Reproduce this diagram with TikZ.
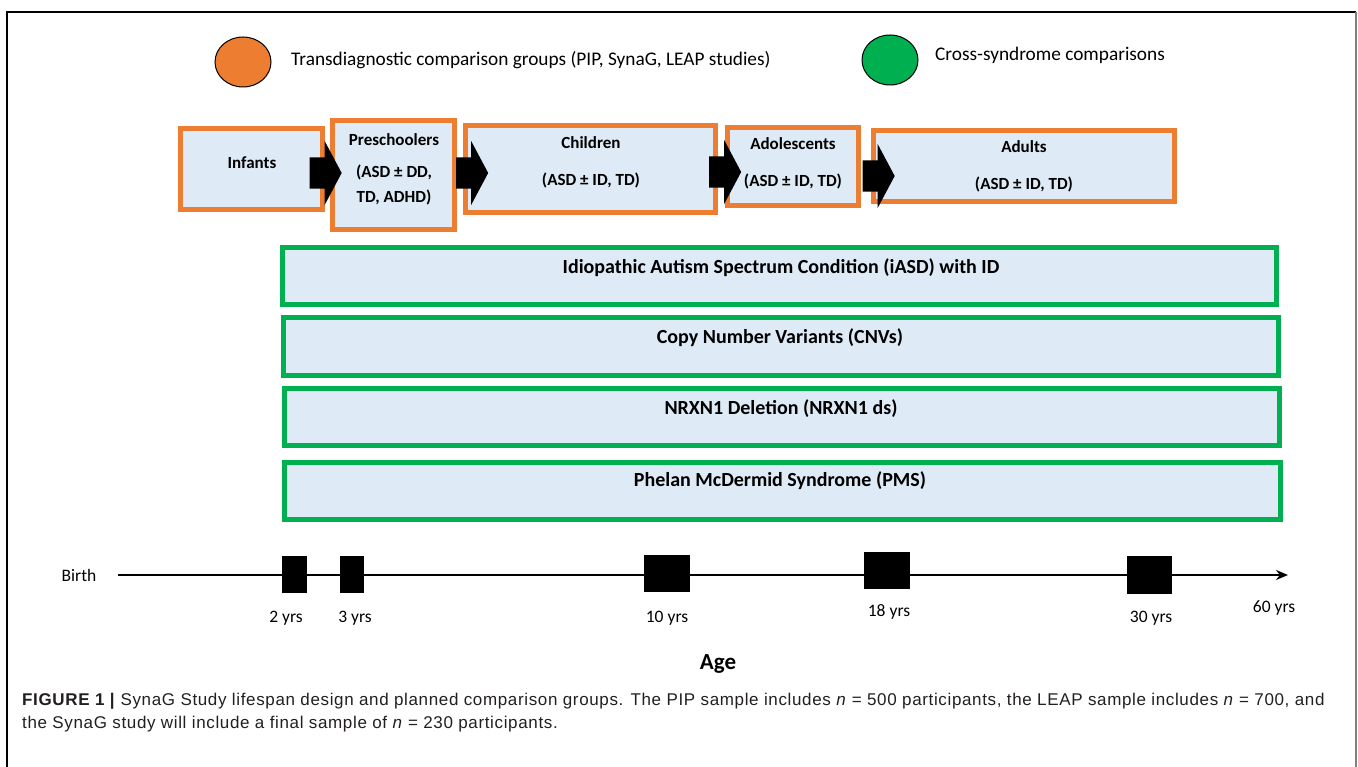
\documentclass[tikz,border=0pt]{standalone}
\usepackage{fontspec}
\setmainfont{Carlito}
\newfontfamily\capfont[LetterSpace=3.8]{Liberation Sans}
\usetikzlibrary{shapes.arrows,shapes.geometric,arrows.meta}
\definecolor{orng}{HTML}{ED7D31}
\definecolor{grn}{HTML}{00B050}
\definecolor{boxfill}{HTML}{DEEBF7}
\definecolor{captxt}{HTML}{231F20}
\begin{document}
\begin{tikzpicture}[x=1pt,y=-1pt,
  obox/.style={draw=orng, line width=5.5pt, fill=boxfill, inner sep=0pt},
  gbox/.style={draw=grn, line width=5.5pt, fill=boxfill, inner sep=0pt},
  lbl/.style={font=\fontsize{17}{20}\selectfont\bfseries, inner sep=0pt, align=center},
  glbl/.style={font=\fontsize{20}{24}\selectfont\bfseries, inner sep=0pt, align=center},
  txt/.style={font=\fontsize{17.5}{20}\selectfont, inner sep=0pt},
  legtxt/.style={font=\fontsize{19.3}{22}\selectfont, inner sep=0pt, anchor=west},
  blk/.style={single arrow, fill=black, draw=none, inner xsep=0pt, inner ysep=15.5pt,
    minimum height=32pt, minimum width=64pt, single arrow head extend=16.5pt,
    single arrow tip angle=124},
  legel/.style={ellipse, draw=black, line width=1pt, minimum width=56pt, minimum height=50pt, inner sep=0pt},
  sq/.style={fill=black, draw=none, inner sep=0pt},
  caption/.style={font=\capfont\fontsize{17}{20}\selectfont, text=captxt, inner sep=0pt, anchor=west}
]
\useasboundingbox (0,0) rectangle (1358,767);
\fill[white] (0,0) rectangle (1358,767);
% frame
\draw[black, line width=1.5pt] (7,767) -- (7,12) -- (1356,12);
\draw[gray, line width=1.5pt] (1356,12) -- (1356,767);

% legend
\node[legel, fill=orng] (legO) at (243,62) {};
\node[legtxt] (legOt) at (291,60) {Transdiagnostic comparison groups (PIP, SynaG, LEAP studies)};
\node[legel, fill=grn] (legG) at (890,60) {};
\node[legtxt] (legGt) at (935,55) {Cross-syndrome comparisons};

% orange boxes
\node[obox, minimum width=142pt, minimum height=81pt] (inf) at (251.5,169) {};
\node[obox, minimum width=122pt, minimum height=109pt] (pre) at (393.5,175) {};
\node[obox, minimum width=250pt, minimum height=87pt] (chi) at (590.5,169) {};
\node[obox, minimum width=131pt, minimum height=78pt] (ado) at (793,166.5) {};
\node[obox, minimum width=301pt, minimum height=71pt] (adu) at (1024,166) {};

\node[lbl] (infT) at (252,163) {Infants};
\node[lbl] (preT) at (394,140) {Preschoolers};
\node[lbl, font=\fontsize{17}{25}\selectfont\bfseries] (preS) at (394,185) {(ASD ± DD,\\TD, ADHD)};
\node[lbl] (chiT) at (591,143) {Children};
\node[lbl] (chiS) at (591,180) {(ASD ± ID, TD)};
\node[lbl] (adoT) at (793,144) {Adolescents};
\node[lbl] (adoS) at (793,181) {(ASD ± ID, TD)};
\node[lbl] (aduT) at (1024,147) {Adults};
\node[lbl] (aduS) at (1024,184) {(ASD ± ID, TD)};

% block arrows
\node[blk] (a1) at (321.5,173) {};
\node[blk] (a2) at (468,173) {};
\node[blk] (a3) at (721,172) {};
\node[blk] (a4) at (874.5,176) {};

% green boxes
\node[gbox, minimum width=994pt, minimum height=57pt] (g1) at (779.5,276) {};
\node[gbox, minimum width=995pt, minimum height=58pt] (g2) at (781,346.5) {};
\node[gbox, minimum width=995pt, minimum height=57pt] (g3) at (782,417) {};
\node[gbox, minimum width=996pt, minimum height=57pt] (g4) at (782.5,491) {};
\node[glbl] (g1T) at (781,268) {Idiopathic Autism Spectrum Condition (iASD) with ID};
\node[glbl] (g2T) at (780,338) {Copy Number Variants (CNVs)};
\node[glbl] (g3T) at (781,409) {NRXN1 Deletion (NRXN1 ds)};
\node[glbl] (g4T) at (780,481) {Phelan McDermid Syndrome (PMS)};

% timeline
\node[txt] (birth) at (79,575) {Birth};
\coordinate (tl0) at (118,575);
\coordinate (tl1) at (1288,575);
\draw[line width=2pt, -{Stealth[length=12pt,width=10pt]}] (tl0) -- (tl1);
\node[sq, minimum width=25pt, minimum height=37pt] (s2) at (294.5,574.5) {};
\node[sq, minimum width=24pt, minimum height=37pt] (s3) at (352,574.5) {};
\node[sq, minimum width=46pt, minimum height=37pt] (s10) at (667,573.5) {};
\node[sq, minimum width=46pt, minimum height=37pt] (s18) at (887,570.5) {};
\node[sq, minimum width=45pt, minimum height=38pt] (s30) at (1149.5,575) {};
\node[txt] (l2) at (286,618) {2 yrs};
\node[txt] (l3) at (355,618) {3 yrs};
\node[txt] (l10) at (667,618) {10 yrs};
\node[txt] (l18) at (889,612) {18 yrs};
\node[txt] (l30) at (1151,618) {30 yrs};
\node[txt] (l60) at (1274,608) {60 yrs};
\node[lbl, font=\fontsize{23}{26}\selectfont\bfseries] (age) at (718,664) {Age};

% caption
\node[caption] (cap1) at (22,701) {\textbf{FIGURE 1 |} SynaG Study lifespan design and planned comparison groups. The PIP sample includes \textit{n} = 500 participants, the LEAP sample includes \textit{n} = 700, and};
\node[caption] (cap2) at (22,724) {the SynaG study will include a final sample of \textit{n} = 230 participants.};
\end{tikzpicture}
\end{document}
